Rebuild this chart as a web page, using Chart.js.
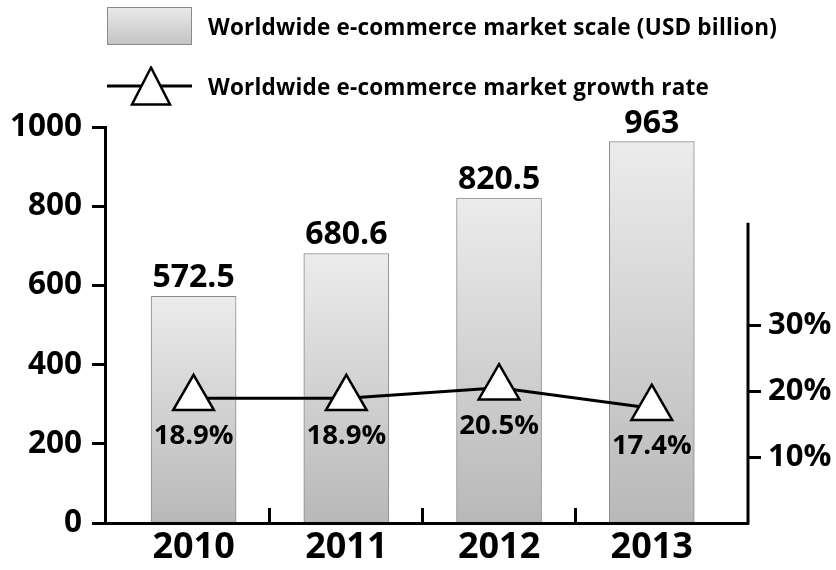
<!DOCTYPE html>
<html>
<head>
<meta charset="utf-8">
<title>Worldwide e-commerce market</title>
<script src="https://cdn.jsdelivr.net/npm/chart.js@4.4.1/dist/chart.umd.min.js"></script>
<style>
  html, body { margin: 0; padding: 0; background: #fff; }
  .wrap { position: relative; width: 836px; height: 570px; font-family: 'Open Sans', sans-serif; }
  #marketChart { position: absolute; left: 0; top: 0; }
  #chartLegend { position: absolute; left: 107px; top: 6px; z-index: 1; }
  .legend-item { display: flex; align-items: center; height: 40px; margin-bottom: 20px;
                 font-weight: bold; font-size: 22.5px; letter-spacing: 0.2px; color: #000; white-space: nowrap; }
  .legend-marker { width: 85px; height: 40px; margin-right: 16px; flex: none; box-sizing: border-box; }
  .legend-box { height: 38px; border: 1px solid #8a8a8a; }
</style>
</head>
<body>
<div class="wrap">
  <canvas id="marketChart" width="836" height="570"></canvas>
  <div id="chartLegend"></div>
</div>
<script>
// data
const years = ['2010', '2011', '2012', '2013'];
const marketScale = [572.5, 680.6, 820.5, 963];      // USD billion
const growthRate = [18.9, 18.9, 20.5, 17.4];         // %
const scaleTicks = [0, 200, 400, 600, 800, 1000];
const rateTicks = [10, 20, 30];
const rateAxisTop = 45.5; // right axis line stops here

const FONT = "'Open Sans', sans-serif";
Chart.defaults.font.family = FONT;
Chart.defaults.font.weight = 'bold';
Chart.defaults.color = '#000';

// tick marks sit between the years, labels on the years
const yearTicks = [];
years.forEach((y, i) => {
    yearTicks.push(+y);
    if (i < years.length - 1) yearTicks.push(+y + 0.5);
});

function barGradient(ctx) {
    const chart = ctx.chart;
    if (!chart.chartArea || !ctx.parsed) return '#d6d6d6';
    const yScale = chart.scales.y;
    const top = yScale.getPixelForValue(ctx.parsed.y);
    const bottom = yScale.getPixelForValue(0);
    const g = chart.ctx.createLinearGradient(0, top, 0, bottom);
    g.addColorStop(0, '#ececec');
    g.addColorStop(1, '#b8b8b8');
    return g;
}

// numbers above the bars and under the triangles
const valueLabels = {
    id: 'valueLabels',
    afterDatasetsDraw(chart) {
        const ctx = chart.ctx;
        ctx.save();
        ctx.fillStyle = '#000';
        ctx.textAlign = 'center';
        ctx.textBaseline = 'alphabetic';
        ctx.font = 'bold 32px ' + FONT;
        chart.getDatasetMeta(0).data.forEach((bar, i) => {
            ctx.fillText(String(marketScale[i]), bar.x, bar.y - 9);
        });
        ctx.font = 'bold 27.5px ' + FONT;
        chart.getDatasetMeta(1).data.forEach((pt, i) => {
            ctx.fillText(growthRate[i].toFixed(1) + '%', pt.x, pt.y + 46);
        });
        ctx.restore();
    }
};

// the growth axis line only runs part way up
const rateAxisLine = {
    id: 'rateAxisLine',
    afterDraw(chart) {
        const y1 = chart.scales.y1;
        const ctx = chart.ctx;
        ctx.save();
        ctx.strokeStyle = '#000';
        ctx.lineWidth = 3;
        ctx.beginPath();
        ctx.moveTo(y1.left, y1.getPixelForValue(rateAxisTop));
        ctx.lineTo(y1.left, y1.bottom + 1.5);
        ctx.stroke();
        ctx.restore();
    }
};

const whiteBg = {
    id: 'whiteBg',
    beforeDraw(chart) {
        const ctx = chart.ctx;
        ctx.save();
        ctx.fillStyle = '#fff';
        ctx.fillRect(0, 0, chart.width, chart.height);
        ctx.restore();
    }
};

const chart = new Chart(document.getElementById('marketChart'), {
    type: 'bar',
    data: {
        labels: years,
        datasets: [
            {
                label: 'Worldwide e-commerce market scale (USD billion)',
                data: marketScale,
                yAxisID: 'y',
                backgroundColor: barGradient,
                borderColor: '#8a8a8a',
                borderWidth: 1,
                borderSkipped: false,
                barThickness: 85,
                order: 1
            },
            {
                type: 'line',
                label: 'Worldwide e-commerce market growth rate',
                data: growthRate,
                yAxisID: 'y1',
                borderColor: '#000',
                borderWidth: 3,
                pointStyle: 'triangle',
                pointRadius: 23.5,
                pointHoverRadius: 23.5,
                pointBackgroundColor: '#fff',
                pointBorderColor: '#000',
                pointBorderWidth: 2.5,
                tension: 0,
                order: 0
            }
        ]
    },
    options: {
        responsive: false,
        animation: false,
        layout: { padding: { left: 0, right: 0, top: 127, bottom: 0 } },
        plugins: {
            legend: { display: false },
            tooltip: { enabled: false }
        },
        scales: {
            x: {
                type: 'linear',
                min: 2009.42,
                max: 2013.63,
                offset: false,
                afterBuildTicks: scale => { scale.ticks = yearTicks.map(v => ({ value: v })); },
                afterFit: scale => { scale.height = 47; },
                grid: {
                    offset: false,
                    drawOnChartArea: false,
                    tickLength: -15,
                    tickWidth: 3,
                    tickColor: ctx => (ctx.tick && !Number.isInteger(ctx.tick.value)) ? '#000' : 'rgba(0,0,0,0)'
                },
                border: { color: '#000', width: 3, z: 1 },
                ticks: {
                    autoSkip: false,
                    maxRotation: 0,
                    padding: 18,
                    font: { size: 36, weight: 'bold' },
                    callback: v => Number.isInteger(v) ? String(v) : ''
                }
            },
            y: {
                position: 'left',
                min: 0,
                max: 1000,
                afterBuildTicks: scale => { scale.ticks = scaleTicks.map(v => ({ value: v })); },
                afterFit: scale => { scale.width = 105; },
                grid: { drawOnChartArea: false, tickLength: 13, tickWidth: 3, tickColor: '#000' },
                border: { color: '#000', width: 3 },
                ticks: { padding: 10, font: { size: 31.5, weight: 'bold' }, callback: v => String(v) }
            },
            y1: {
                position: 'right',
                min: 0,
                max: 60,
                afterBuildTicks: scale => { scale.ticks = rateTicks.map(v => ({ value: v })); },
                afterFit: scale => { scale.width = 88; },
                grid: { drawOnChartArea: false, tickLength: 13, tickWidth: 3, tickColor: '#000' },
                border: { display: false },
                ticks: { padding: 7, font: { size: 31, weight: 'bold' }, callback: v => v + '%' }
            }
        }
    },
    plugins: [whiteBg, valueLabels, rateAxisLine]
});

// html legend built from the datasets
function buildLegend(chart) {
    const holder = document.getElementById('chartLegend');
    holder.innerHTML = '';
    chart.data.datasets.forEach(ds => {
        const item = document.createElement('div');
        item.className = 'legend-item';
        let marker;
        if ((ds.type || chart.config.type) === 'bar') {
            marker = document.createElement('div');
            marker.className = 'legend-marker legend-box';
            marker.style.background = 'linear-gradient(#e9e9e9, #c4c4c4)';
            marker.style.borderColor = ds.borderColor;
        } else {
            marker = document.createElementNS('http://www.w3.org/2000/svg', 'svg');
            marker.setAttribute('class', 'legend-marker');
            marker.setAttribute('viewBox', '0 0 85 40');
            marker.innerHTML =
                `<line x1="0" y1="20" x2="85" y2="20" stroke="${ds.borderColor}" stroke-width="${ds.borderWidth}"/>` +
                `<polygon points="44,1.5 25,38.5 63,38.5" fill="${ds.pointBackgroundColor}" stroke="${ds.pointBorderColor}" stroke-width="${ds.pointBorderWidth}"/>`;
        }
        const text = document.createElement('span');
        text.textContent = ds.label;
        item.appendChild(marker);
        item.appendChild(text);
        holder.appendChild(item);
    });
}
buildLegend(chart);
</script>
</body>
</html>
